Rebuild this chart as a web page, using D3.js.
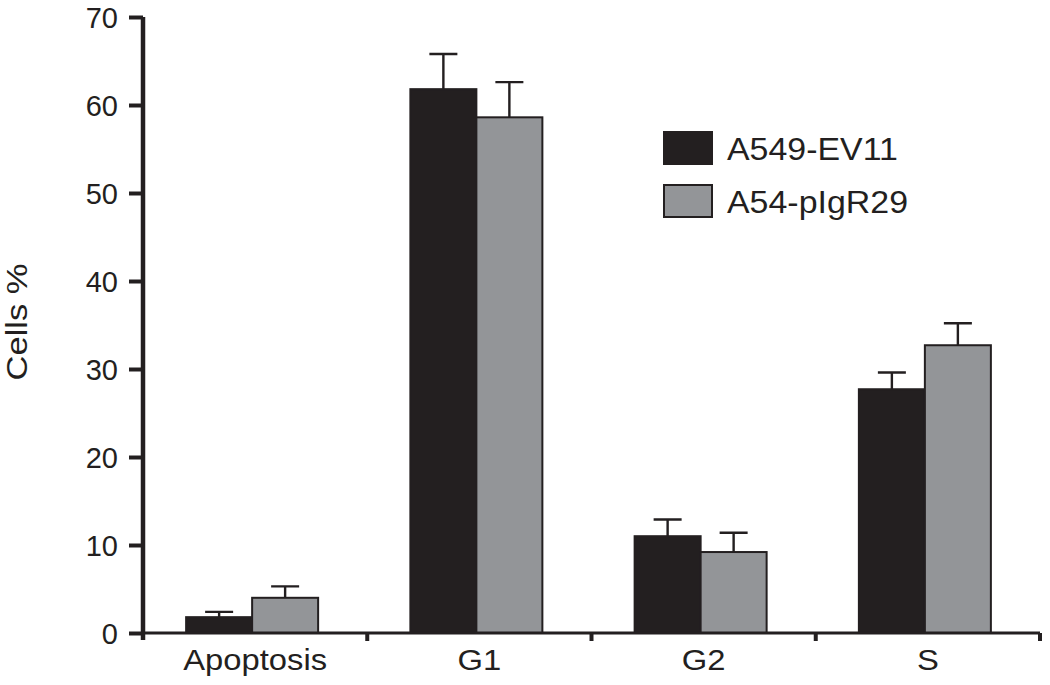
<!DOCTYPE html>
<html>
<head>
<meta charset="utf-8">
<script src="https://cdn.jsdelivr.net/npm/d3@7"></script>
<style>
  body { margin: 0; background: #fff; }
  text { font-family: Arial, "Liberation Sans", sans-serif; fill: #231f20; }
</style>
</head>
<body>
<div id="chart"></div>
<script>
const categories = ["Apoptosis", "G1", "G2", "S"];
const seriesNames = ["A549-EV11", "A54-pIgR29"];
const ev11Values = [1.8, 61.8, 11.0, 27.7];
const ev11Errors = [0.6, 4.0, 1.9, 1.9];
const pigrValues = [4.0, 58.6, 9.2, 32.7];
const pigrErrors = [1.3, 4.0, 2.2, 2.5];
const yTicks = [0, 10, 20, 30, 40, 50, 60, 70];
const colors = ["#231f20", "#939598"];

const width = 1050, height = 685;
const margin = { top: 17, right: 10, bottom: 52, left: 143 };

const svg = d3.select("#chart").append("svg")
  .attr("width", width)
  .attr("height", height);

const x0 = d3.scaleBand()
  .domain(categories)
  .range([margin.left, 1040])
  .padding(0);

const groupW = 132;
const x1 = d3.scaleBand()
  .domain(seriesNames)
  .range([x0.bandwidth() / 2 - groupW / 2 - 3, x0.bandwidth() / 2 + groupW / 2 - 3]);

const y = d3.scaleLinear()
  .domain([0, 70])
  .range([633, margin.top]);

const data = categories.map((c, i) => ({
  cat: c,
  vals: [
    { s: seriesNames[0], v: ev11Values[i], e: ev11Errors[i], k: 0 },
    { s: seriesNames[1], v: pigrValues[i], e: pigrErrors[i], k: 1 }
  ]
}));

// bars + error bars
const g = svg.selectAll(".grp")
  .data(data)
  .enter().append("g")
  .attr("class", "grp")
  .attr("transform", d => "translate(" + x0(d.cat) + ",0)");

g.selectAll(".err")
  .data(d => d.vals)
  .enter().append("path")
  .attr("class", "err")
  .attr("fill", "none")
  .attr("stroke", "#231f20")
  .attr("stroke-width", 2.4)
  .attr("d", d => {
    const cx = x1(d.s) + x1.bandwidth() / 2;
    const yt = y(d.v + d.e);
    return "M" + cx + "," + y(d.v) + "V" + yt + "M" + (cx - 14) + "," + yt + "H" + (cx + 14);
  });

g.selectAll("rect")
  .data(d => d.vals)
  .enter().append("rect")
  .attr("x", d => x1(d.s))
  .attr("y", d => y(d.v))
  .attr("width", x1.bandwidth())
  .attr("height", d => y(0) - y(d.v))
  .attr("fill", d => colors[d.k])
  .attr("stroke", "#231f20")
  .attr("stroke-width", 2);

// x axis (thin line, small ticks at group boundaries)
const xAxis = svg.append("g")
  .attr("transform", "translate(0," + y(0) + ")");
xAxis.append("path")
  .attr("d", "M" + margin.left + ",0H1040")
  .attr("stroke", "#231f20")
  .attr("stroke-width", 3);
xAxis.selectAll(".xt")
  .data(categories.slice(1).map(c => x0(c)).concat([x0.range()[1]]))
  .enter().append("line")
  .attr("x1", d => d).attr("x2", d => d)
  .attr("y1", 0).attr("y2", 8)
  .attr("stroke", "#231f20")
  .attr("stroke-width", 4);
xAxis.selectAll(".xl")
  .data(categories)
  .enter().append("text")
  .attr("transform", d => "translate(" + (x0(d) + x0.bandwidth() / 2) + ",37) scale(1.13,1)")
  .attr("text-anchor", "middle")
  .attr("font-size", 29)
  .text(d => d);

// y axis
const yAxis = svg.append("g")
  .attr("transform", "translate(" + margin.left + ",0)")
  .call(d3.axisLeft(y).tickValues(yTicks).tickSize(14).tickPadding(11));
yAxis.select(".domain").attr("stroke", "#231f20").attr("stroke-width", 4.5)
  .attr("d", "M0," + y(70) + "V" + (y(0) + 7));
yAxis.selectAll(".tick line").attr("stroke", "#231f20").attr("stroke-width", 4);
yAxis.selectAll(".tick text").attr("font-size", 29).attr("fill", "#231f20")
  .attr("font-family", "Arial, 'Liberation Sans', sans-serif")
  .attr("dy", "0.36em");

// y label
svg.append("text")
  .attr("transform", "translate(27,322) rotate(-90) scale(1.15,1)")
  .attr("text-anchor", "middle")
  .attr("font-size", 30)
  .text("Cells %");

// legend
const legend = svg.selectAll(".leg")
  .data(seriesNames)
  .enter().append("g")
  .attr("class", "leg")
  .attr("transform", (d, i) => "translate(664," + (132 + i * 53) + ")");
legend.append("rect")
  .attr("width", 48).attr("height", 32)
  .attr("fill", (d, i) => colors[i])
  .attr("stroke", "#231f20")
  .attr("stroke-width", 2);
legend.append("text")
  .attr("transform", "translate(63,28) scale(1.06,1)")
  .attr("font-size", 32)
  .text(d => d);
</script>
</body>
</html>
